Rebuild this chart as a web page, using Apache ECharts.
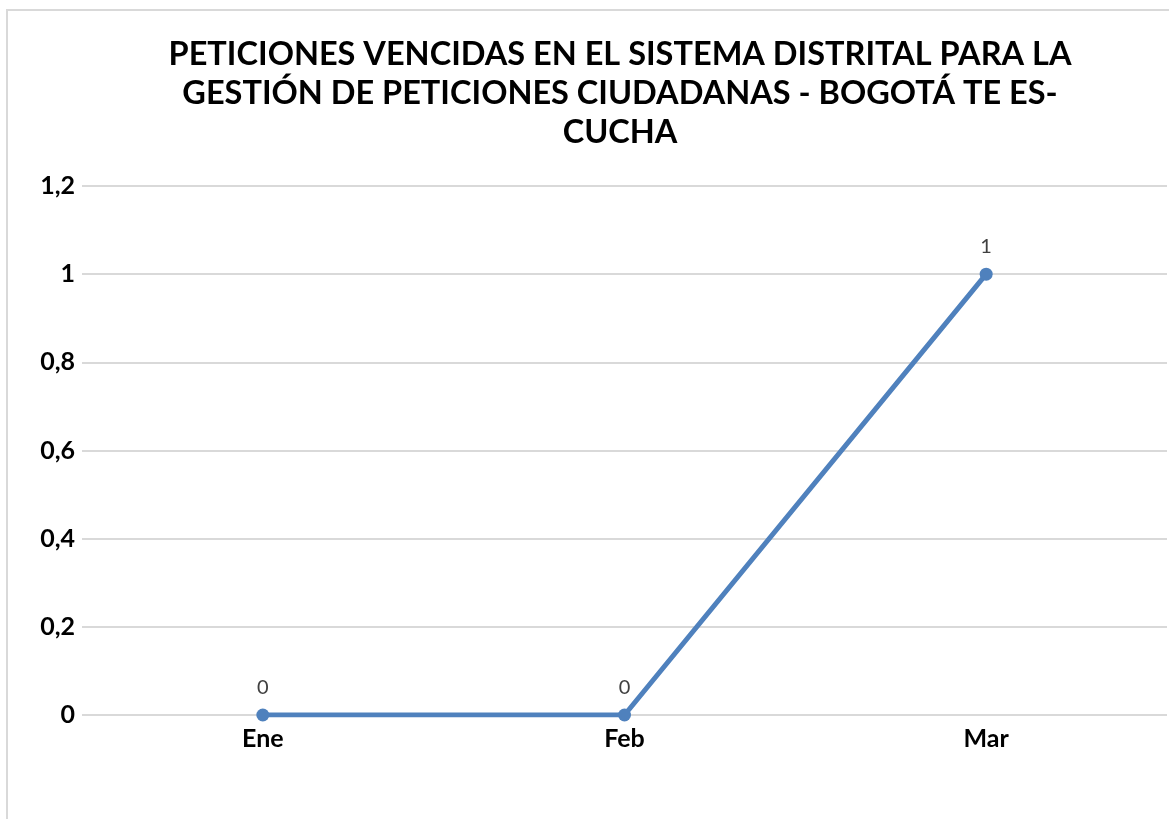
<!DOCTYPE html>
<html>
<head>
<meta charset="utf-8">
<script src="https://cdn.jsdelivr.net/npm/echarts@6/dist/echarts.min.js"></script>
<style>
    html, body { margin: 0; padding: 0; background: #fff; }
    #chart { width: 1169px; height: 819px; }
</style>
</head>
<body>
<div id="chart"></div>
<script>
    var titleText = 'PETICIONES VENCIDAS EN EL SISTEMA DISTRITAL PARA LA\nGESTIÓN DE PETICIONES CIUDADANAS - BOGOTÁ TE ES-\nCUCHA';
    var months = ['Ene', 'Feb', 'Mar'];
    var vencidas = [0, 0, 1];

    var myChart = echarts.init(document.getElementById('chart'));
    var option = {
        backgroundColor: '#fff',
        animation: false,
        textStyle: { fontFamily: 'Lato' },
        graphic: [
            {
                type: 'rect',
                shape: { x: 7, y: 10, width: 1300, height: 1000 },
                style: { fill: 'none', stroke: '#d9d9d9', lineWidth: 2 },
                silent: true
            }
        ],
        title: {
            text: titleText,
            left: 615,
            top: 30,
            textAlign: 'center',
            textStyle: {
                fontFamily: 'Lato',
                fontWeight: 'bold',
                fontSize: 32.5,
                lineHeight: 39,
                color: '#000'
            }
        },
        grid: {
            left: 82,
            right: 2,
            top: 186,
            bottom: 104,
            containLabel: false
        },
        xAxis: {
            type: 'category',
            data: months,
            boundaryGap: true,
            axisLine: { show: false },
            axisTick: { show: false },
            axisLabel: {
                margin: 11,
                fontFamily: 'Lato',
                fontWeight: 'bold',
                fontSize: 25,
                color: '#000'
            }
        },
        yAxis: {
            type: 'value',
            min: 0,
            max: 1.2,
            interval: 0.2,
            axisLine: { show: false },
            axisTick: { show: false },
            splitLine: { lineStyle: { color: '#d9d9d9', width: 2 } },
            axisLabel: {
                margin: 7,
                fontFamily: 'Lato',
                fontWeight: 'bold',
                fontSize: 25,
                color: '#000',
                formatter: function (v) {
                    return String(Math.round(v * 10) / 10).replace('.', ',');
                }
            }
        },
        series: [
            {
                name: 'Vencidas',
                type: 'line',
                data: vencidas,
                symbol: 'circle',
                symbolSize: 13,
                lineStyle: { color: '#4f81bd', width: 5 },
                itemStyle: { color: '#4f81bd' },
                label: {
                    show: true,
                    position: 'top',
                    distance: 11,
                    fontFamily: 'Lato',
                    fontSize: 20,
                    color: '#404040'
                }
            }
        ]
    };
    myChart.setOption(option);
</script>
</body>
</html>
